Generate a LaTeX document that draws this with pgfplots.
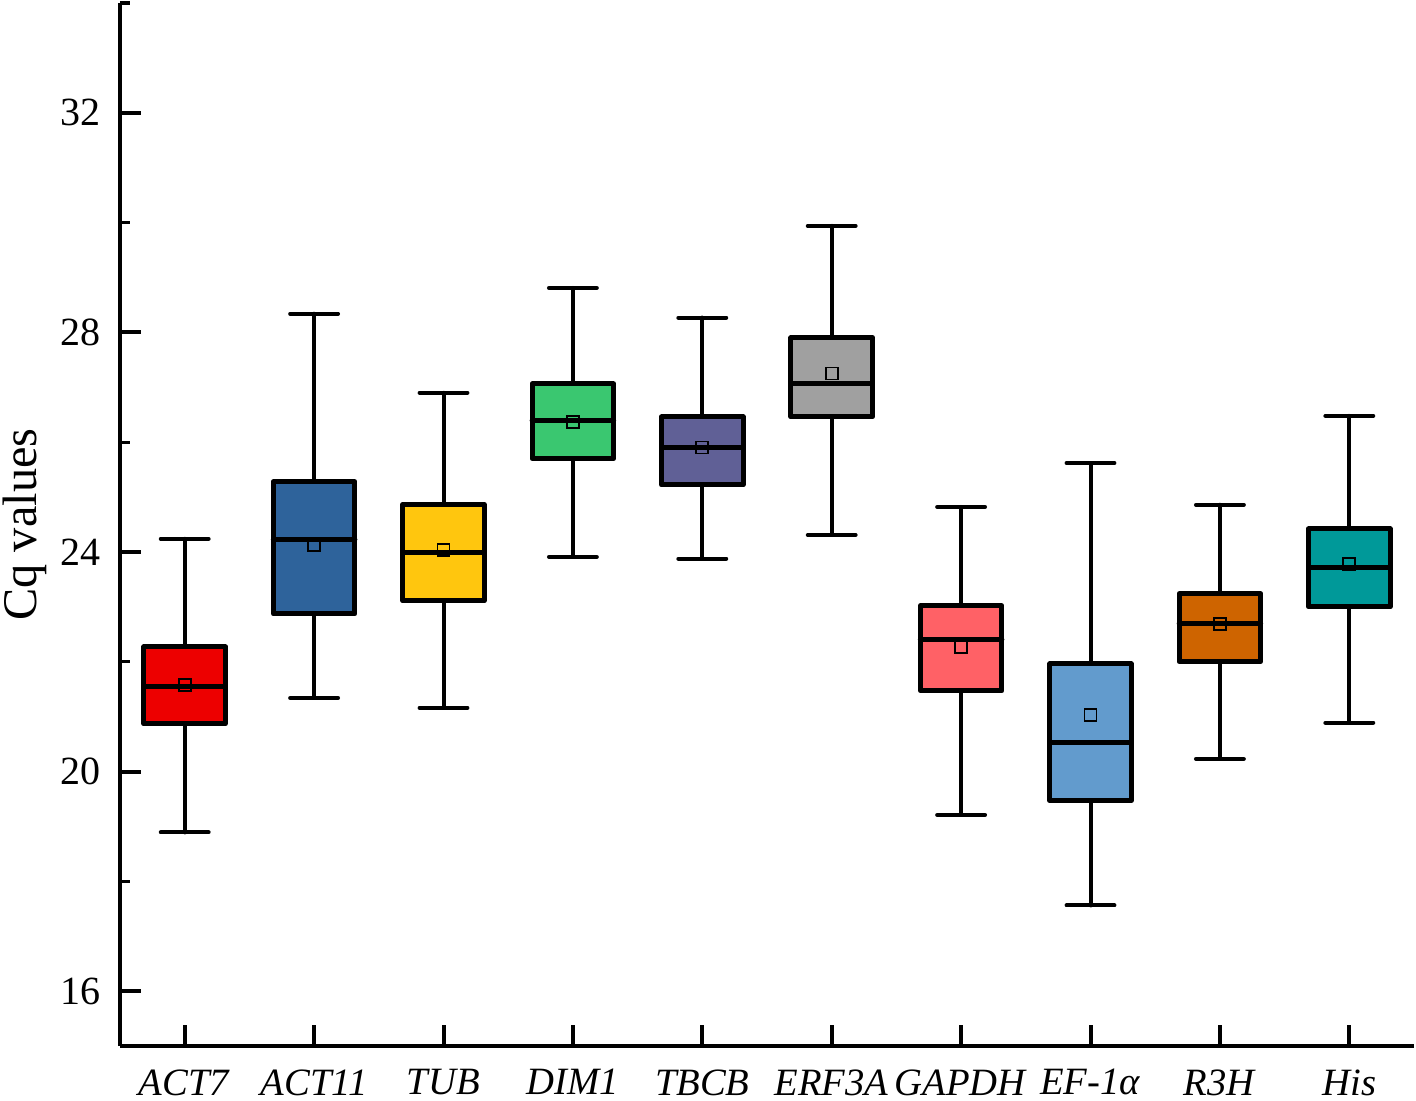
\documentclass[border=0pt]{standalone}
\usepackage{pgfplots}
\pgfplotsset{compat=1.18}
\usepgfplotslibrary{statistics}
\usepackage{fontspec}
\setmainfont{Liberation Serif}
\definecolor{cA}{RGB}{237,0,0}
\definecolor{cB}{RGB}{46,99,155}
\definecolor{cC}{RGB}{255,198,14}
\definecolor{cD}{RGB}{58,199,112}
\definecolor{cE}{RGB}{96,96,150}
\definecolor{cF}{RGB}{160,160,160}
\definecolor{cG}{RGB}{255,97,102}
\definecolor{cH}{RGB}{98,155,205}
\definecolor{cI}{RGB}{206,100,0}
\definecolor{cJ}{RGB}{0,153,153}
\pgfplotsset{
  bx/.style={draw=black, solid, line width=1.5pt, line join=round, line cap=round, mark=none, fill=#1},
}
\begin{document}
\begin{tikzpicture}
\begin{axis}[
  name=ax,
  scale only axis,
  width=388.2pt, height=312.9pt,
  xmin=0.5, xmax=10.5, ymin=15, ymax=34,
  axis x line*=bottom, axis y line*=left,
  axis line style={line width=1.2pt},
  xtick={1,...,10},
  xticklabels={\textit{ACT7},\textit{ACT11},\textit{TUB},\textit{DIM1},\textit{TBCB},\textit{ERF3A},\textit{GAPDH},\textit{EF-1α},\textit{R3H},\textit{His}},
  ytick={16,20,24,28,32},
  minor ytick={18,22,26,30,34},
  tick align=inside,
  major tick length=6.3pt, minor tick length=3pt,
  tick style={line width=1.2pt, black},
  minor tick style={line width=1.0pt, black},
  /pgf/number format/assume math mode=true,
  yticklabel style={font=\fontsize{12}{14}\selectfont, xshift=-2.4pt},
  xticklabel style={font=\fontsize{11.6}{14}\selectfont, yshift=-3.5pt},
  ylabel={Cq values},
  ylabel style={at={(axis description cs:-0.0735,0.5)}, anchor=center, font=\fontsize{14.5}{16}\selectfont},
  clip=false,
  boxplot/draw direction=y,
  boxplot/box extend=0.63,
  boxplot/whisker extend=0.37,
  boxplot/every whisker/.style={line width=1.2pt},
]
\addplot[bx=cA, boxplot prepared={draw position=1, lower whisker=18.89, lower quartile=20.87, median=21.55, upper quartile=22.27, upper whisker=24.24}] coordinates {};
\addplot[bx=cB, boxplot prepared={draw position=2, lower whisker=21.34, lower quartile=22.87, median=24.22, upper quartile=25.28, upper whisker=28.34}] coordinates {};
\addplot[bx=cC, boxplot prepared={draw position=3, lower whisker=21.16, lower quartile=23.11, median=23.99, upper quartile=24.86, upper whisker=26.90}] coordinates {};
\addplot[bx=cD, boxplot prepared={draw position=4, lower whisker=23.91, lower quartile=25.70, median=26.39, upper quartile=27.06, upper whisker=28.81}] coordinates {};
\addplot[bx=cE, boxplot prepared={draw position=5, lower whisker=23.88, lower quartile=25.22, median=25.90, upper quartile=26.46, upper whisker=28.27}] coordinates {};
\addplot[bx=cF, boxplot prepared={draw position=6, lower whisker=24.31, lower quartile=26.46, median=27.06, upper quartile=27.90, upper whisker=29.94}] coordinates {};
\addplot[bx=cG, boxplot prepared={draw position=7, lower whisker=19.21, lower quartile=21.47, median=22.40, upper quartile=23.02, upper whisker=24.82}] coordinates {};
\addplot[bx=cH, boxplot prepared={draw position=8, lower whisker=17.56, lower quartile=19.47, median=20.52, upper quartile=21.96, upper whisker=25.62}] coordinates {};
\addplot[bx=cI, boxplot prepared={draw position=9, lower whisker=20.23, lower quartile=22.00, median=22.69, upper quartile=23.24, upper whisker=24.86}] coordinates {};
\addplot[bx=cJ, boxplot prepared={draw position=10, lower whisker=20.89, lower quartile=23.00, median=23.71, upper quartile=24.42, upper whisker=26.48}] coordinates {};
\addplot[only marks, mark=square, mark size=1.8pt, mark options={draw=black, fill=none, solid, line width=0.5pt}] coordinates {
(1,21.58) (2,24.13) (3,24.04) (4,26.37) (5,25.90) (6,27.25) (7,22.27) (8,21.03) (9,22.69) (10,23.78)};
\end{axis}
\pgfresetboundingbox
\path ([shift={(-36pt,-16.2pt)}]ax.south west) rectangle ([shift={(0.6pt,0.9pt)}]ax.north east);
\end{tikzpicture}
\end{document}
